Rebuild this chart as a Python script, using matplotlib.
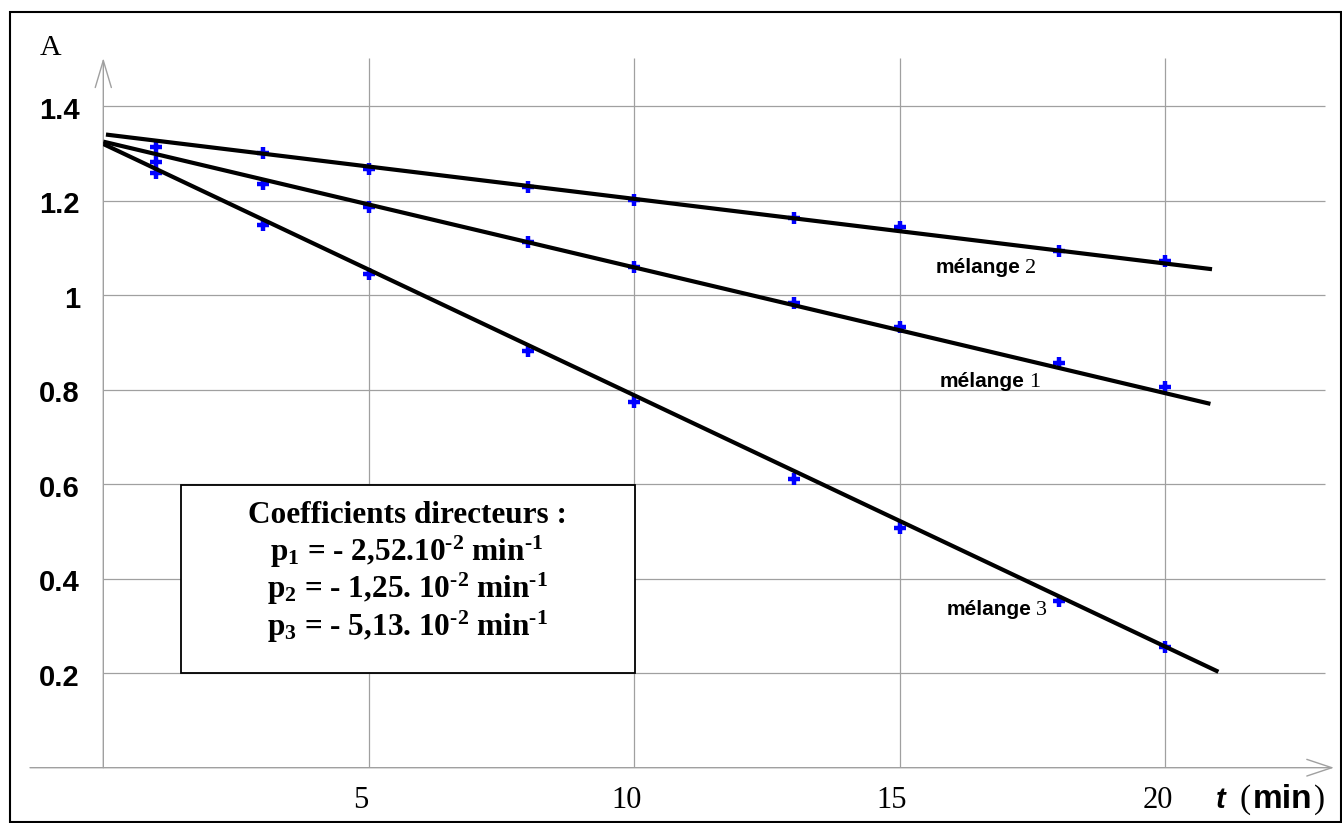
import matplotlib
matplotlib.use('Agg')
import matplotlib.pyplot as plt
from matplotlib.patches import Rectangle

# ---------------- data ----------------
t_min = [1, 3, 5, 8, 10, 13, 15, 18, 20]
A_melange1 = [1.281, 1.235, 1.187, 1.112, 1.059, 0.984, 0.932, 0.856, 0.806]
A_melange2 = [1.314, 1.300, 1.267, 1.229, 1.201, 1.164, 1.145, 1.094, 1.072]
A_melange3 = [1.258, 1.149, 1.044, 0.882, 0.775, 0.612, 0.508, 0.353, 0.255]

# regression lines, end points (t, A)
fit1_t = [0.0, 20.85]
fit1_A = [1.325, 0.770]
fit2_t = [0.05, 20.88]
fit2_A = [1.340, 1.055]
fit3_t = [0.0, 21.0]
fit3_A = [1.320, 0.203]

x_ticks = [5, 10, 15, 20]
x_tick_labels = ['5', '10', '15', '20']
y_ticks = [0.2, 0.4, 0.6, 0.8, 1.0, 1.2, 1.4]
y_tick_labels = ['0.2', '0.4', '0.6', '0.8', '1', '1.2', '1.4']

coef_title = 'Coefficients directeurs :'
coef_lines = [
    r'p$_1$ = - 2,52.10$^{\text{-2}}$ min$^{\text{-1}}$',
    r'p$_2$ = - 1,25. 10$^{\text{-2}}$ min$^{\text{-1}}$',
    r'p$_3$ = - 5,13. 10$^{\text{-2}}$ min$^{\text{-1}}$',
]

# ---------------- layout (pixels of the 1342x823 picture) ----------------
W, H = 1342, 823
X0_PX, Y0_PX = 103.3, 767.7      # where t=0, A=0 sits
PX_PER_T, PX_PER_A = 53.1, 472.5


def px2data(px, py):
    return (px - X0_PX) / PX_PER_T, (Y0_PX - py) / PX_PER_A


plt.rcParams['mathtext.fontset'] = 'custom'
plt.rcParams['mathtext.rm'] = 'Liberation Serif:bold'
plt.rcParams['mathtext.bf'] = 'Liberation Serif:bold'
plt.rcParams['mathtext.it'] = 'Liberation Serif:bold'

GRID = '#a0a0a0'
SANS = 'Liberation Sans'
SERIF = 'Liberation Serif'

fig = plt.figure(figsize=(W / 100, H / 100), dpi=100)
right_px, top_px = 1340, 49.5
ax = fig.add_axes([X0_PX / W, (H - Y0_PX) / H,
                   (right_px - X0_PX) / W, (Y0_PX - top_px) / H])
ax.set_xlim(0, (right_px - X0_PX) / PX_PER_T)
ax.set_ylim(0, (Y0_PX - top_px) / PX_PER_A)
ax.axis('off')
renderer = fig.canvas.get_renderer()


def text_run(px, py, pieces):
    """Write several text pieces one after the other on a shared baseline."""
    x = px
    for s, gap, kw in pieces:
        x += gap
        t = ax.text(px2data(x, 0)[0], px2data(0, py)[1], s, ha='left',
                    va='baseline', clip_on=False, **kw)
        x = t.get_window_extent(renderer).x1


# grid
grid_right = px2data(1325, 0)[0]
grid_top = px2data(0, 58)[1]
ax.hlines(y_ticks, 0, grid_right, colors=GRID, lw=0.9, zorder=1)
ax.vlines(x_ticks, 0, grid_top, colors=GRID, lw=0.9, zorder=1)

# axes with open arrow heads
x_start = px2data(30, 0)[0]
x_tip = px2data(1334, 0)[0]
ax.annotate('', xy=(x_tip, 0), xytext=(x_start, 0), annotation_clip=False,
            arrowprops=dict(arrowstyle='->,head_length=1.8,head_width=0.6',
                            color=GRID, lw=1.0, shrinkA=0, shrinkB=0), zorder=2)
ax.annotate('', xy=(0, grid_top), xytext=(0, 0), annotation_clip=False,
            arrowprops=dict(arrowstyle='->,head_length=1.95,head_width=0.58',
                            color=GRID, lw=1.0, shrinkA=0, shrinkB=0), zorder=2)

# coefficient box
bx0, by0 = px2data(180.7, 672.7)
bx1, by1 = px2data(635, 485)
ax.add_patch(Rectangle((bx0, by0), bx1 - bx0, by1 - by0, fc='white',
                       ec='black', lw=1.3, zorder=3))
cx = px2data(407, 0)[0]
ax.text(cx, px2data(0, 523.3)[1], coef_title, family=SERIF, weight='bold',
        fontsize=22.5, ha='center', va='baseline', zorder=4)
for i, line in enumerate(coef_lines):
    ax.text(cx, px2data(0, 560.7 + 37.5 * i)[1], line, family=SERIF,
            weight='bold', fontsize=22.5, ha='center', va='baseline', zorder=4)

# measurements and fitted lines
for A in (A_melange1, A_melange2, A_melange3):
    ax.plot(t_min, A, ls='none', marker='+', ms=8.5, mew=3.2,
            color='#0000ff', zorder=5)
for ft, fA in ((fit1_t, fit1_A), (fit2_t, fit2_A), (fit3_t, fit3_A)):
    ax.plot(ft, fA, color='black', lw=3.0, solid_capstyle='butt', zorder=6)

# tick labels
for v, lab in zip(y_ticks, y_tick_labels):
    ax.text(px2data(80, 0)[0], v - 0.027, lab, family=SANS, weight='bold',
            fontsize=21, ha='right', va='baseline', clip_on=False)
for v, lab in zip(x_ticks, x_tick_labels):
    ax.text(v - 0.15, px2data(0, 808.3)[1], lab, family=SERIF,
            fontsize=22, ha='center', va='baseline', clip_on=False)

# axis titles
ax.text(*px2data(40, 55), 'A', family=SERIF, fontsize=21.5, ha='left',
        va='baseline', clip_on=False)
text_run(1216, 808, [
    ('t', 0, dict(family=SANS, weight='bold', style='italic', fontsize=21)),
    ('(', 14, dict(family=SERIF, fontsize=24)),
    ('min', 2, dict(family=SANS, weight='bold', fontsize=24)),
    (')', 1, dict(family=SERIF, fontsize=24)),
])

# series labels
for name_px, base_py, num in ((936, 273, '2'), (940, 386.7, '1'), (947, 615, '3')):
    text_run(name_px, base_py, [
        ('mélange', 0, dict(family=SANS, weight='bold', fontsize=15)),
        (num, 4, dict(family=SERIF, fontsize=16)),
    ])

# outer frame
fig.add_artist(Rectangle((9.5 / W, 1 - 822 / H), (1341 - 9.5) / W,
                         (822 - 12) / H, transform=fig.transFigure,
                         fill=False, ec='black', lw=1.5))

fig.savefig('out.png', dpi=100)
